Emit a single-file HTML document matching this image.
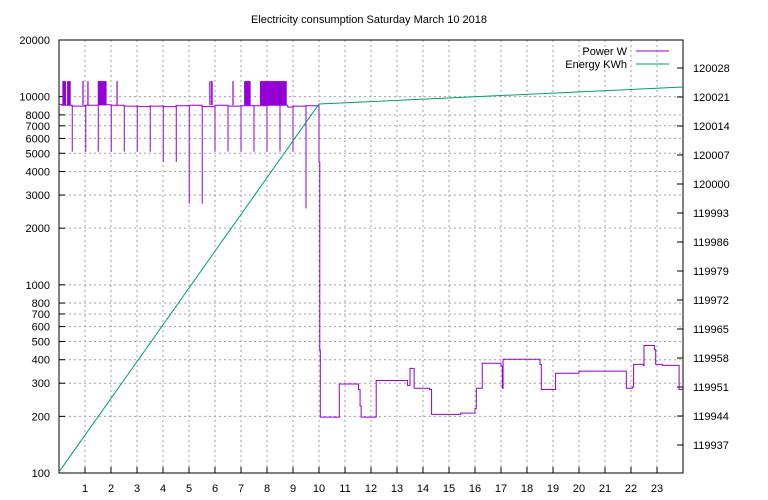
<!DOCTYPE html>
<html><head><meta charset="utf-8"><style>
body{margin:0;background:#fff;}
svg{display:block;font-family:"Liberation Sans",sans-serif;font-size:11px;}
</style></head><body>
<svg id="chart" width="768" height="500" xmlns="http://www.w3.org/2000/svg">
<text x="369" y="23" text-anchor="middle">Electricity consumption Saturday March 10 2018</text>
<g id="grid"></g>
<g id="axes"></g>
<g id="series"></g>
<g>
<text x="627" y="55" text-anchor="end">Power W</text>
<line x1="636" y1="51" x2="669" y2="51" stroke="#9400d3" stroke-width="1"/>
<text x="627" y="68" text-anchor="end">Energy KWh</text>
<line x1="636" y1="64" x2="669" y2="64" stroke="#009e73" stroke-width="1"/>
</g>
</svg>
<script>
const xTicks=[1,2,3,4,5,6,7,8,9,10,11,12,13,14,15,16,17,18,19,20,21,22,23];
const yTicks=[100,200,300,400,500,600,700,800,1000,2000,3000,4000,5000,6000,7000,8000,10000,20000];
const yTickLabels=["100","200","300","400","500","600","700","800","1000","2000","3000","4000","5000","6000","7000","8000","10000","20000"];
const y2Ticks=[119937,119944,119951,119958,119965,119972,119979,119986,119993,120000,120007,120014,120021,120028];
// baseline power (step-after) hours and watts
const powerTimes=[0,0.1,0.5,1,1.5,2,2.5,3,3.5,4,4.5,5,5.5,6,6.5,7,7.5,8,8.5,8.8,9,9.5,10,10.03,10.05,10.78,11.52,11.58,11.62,12.2,13.4,13.5,13.66,14.25,14.33,15.45,16.0,16.05,16.28,17.0,17.05,17.08,18.5,18.55,19.1,20.0,21.82,22.05,22.1,22.48,22.5,22.9,22.95,23.2,23.85,24];
const powerValues=[9100,9000,8900,9000,9050,9000,8900,8850,8900,8850,8950,9000,8850,9000,8900,8950,8950,9000,9000,8800,8900,8950,4500,450,198,297,278,227,198,310,292,360,282,278,205,208,220,282,383,370,282,402,378,278,339,348,282,287,378,372,476,452,378,373,278,278];
// up-spike blocks to ~12100 W: [start,end] hours
const spikeBlocks=[[0.13,0.27],[0.31,0.45],[0.9,0.91],[1.09,1.1],[1.49,1.83],[2.21,2.23],[5.78,5.79],[5.85,5.91],[6.67,6.68],[7.12,7.37],[7.73,8.76]];
const spikePeak=12100;
// down spikes
const dropTimes=[0.51,1.03,1.51,2.01,2.51,3.01,3.51,4.01,4.51,5.01,5.51,6.0,6.5,7.0,7.5,8.0,8.5,9.0,9.5];
const dropValues=[5100,5100,5100,5100,5100,5100,5100,4500,4500,2700,2700,5100,5100,5100,5100,5100,5100,5100,2550];
const energyTimes=[0,10,24];
const energyValues=[119930.5,120019.3,120023.4];

const L=59,R=683,T=40,B=473;
const X=h=>L+(R-L)*h/24;
const Y=v=>B-(Math.log10(v)-2)/Math.log10(200)*(B-T);
const Y2=v=>68+(120028-v)*4.143;
const NS="http://www.w3.org/2000/svg";
function mk(tag,parent,attrs){const e=document.createElementNS(NS,tag);for(const k in attrs)e.setAttribute(k,attrs[k]);document.getElementById(parent).appendChild(e);return e;}
// grid + ticks
xTicks.forEach((h,i)=>{
  const g=mk('line','grid',{x1:X(h),x2:X(h),y1:T,y2:B,stroke:'#a0a0a0','stroke-dasharray':'2,3'});
  
  
  const t=mk('line','axes',{x1:X(h),x2:X(h),y1:B,y2:B-6,stroke:'#000'});
  
  
  const lb=mk('text','axes',{x:X(h),y:B+19,'text-anchor':'middle'});lb.textContent=h;
  
  
});
yTicks.forEach((v,i)=>{
  if(v>100&&v<20000){const g=mk('line','grid',{x1:L,x2:R,y1:Y(v),y2:Y(v),stroke:'#a0a0a0','stroke-dasharray':'2,3'});
  
  }
  const t=mk('line','axes',{x1:L,x2:L+6,y1:Y(v),y2:Y(v),stroke:'#000'});
  
  
  const lb=mk('text','axes',{x:50,y:Y(v)+4,'text-anchor':'end'});lb.textContent=yTickLabels[i];
  
  
});
y2Ticks.forEach(v=>{
  const t=mk('line','axes',{x1:R-6,x2:R,y1:Y2(v),y2:Y2(v),stroke:'#000'});
  
  
  const lb=mk('text','axes',{x:693,y:Y2(v)+4});lb.textContent=v;
  
  
});
const fr=mk('rect','axes',{x:L,y:T,width:R-L,height:B-T,fill:'none',stroke:'#000'});


// power line
let d='M'+X(powerTimes[0])+','+Y(powerValues[0]);
for(let i=1;i<powerTimes.length;i++){d+=' H'+X(powerTimes[i])+' V'+Y(powerValues[i]);}
const pl=mk('path','series',{d:d,fill:'none',stroke:'#9400d3','stroke-width':1});


spikeBlocks.forEach(b=>{
  const w=Math.max(1.2,X(b[1])-X(b[0]));
  const r=mk('rect','series',{x:X(b[0]),y:Y(spikePeak),width:w,height:Y(9000)-Y(spikePeak),fill:'#9400d3'});
  
  
});
dropTimes.forEach((h,i)=>{
  const l=mk('line','series',{x1:X(h),x2:X(h),y1:Y(9000),y2:Y(dropValues[i]),stroke:'#9400d3','stroke-width':1});
  
  
});
const ed=energyTimes.map((h,i)=>(i?'L':'M')+X(h)+','+Y2(energyValues[i])).join(' ');
const el=mk('path','series',{d:ed,fill:'none',stroke:'#009e73','stroke-width':1});


</script>
</body></html>
